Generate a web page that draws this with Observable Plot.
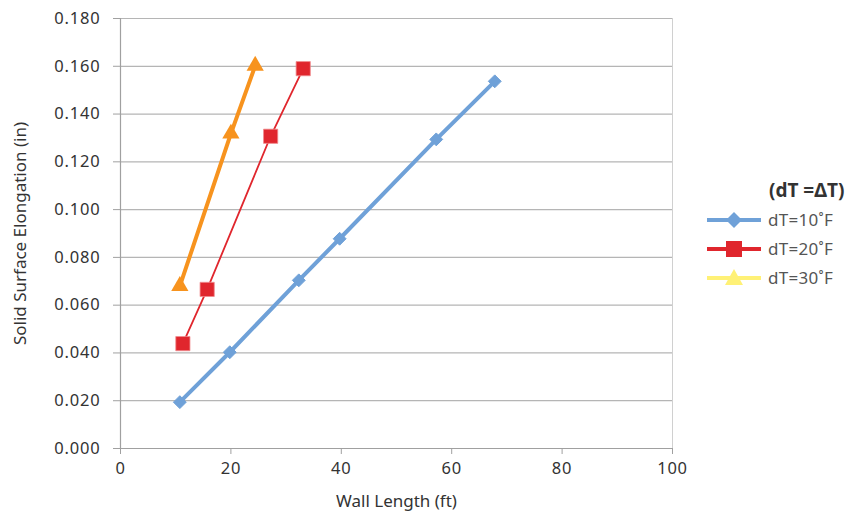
<!DOCTYPE html>
<html>
<head>
<meta charset="utf-8">
<script src="https://cdn.jsdelivr.net/npm/d3@7"></script>
<script src="https://cdn.jsdelivr.net/npm/@observablehq/plot@0.6"></script>
<style>
  html, body { margin: 0; padding: 0; background: #fff; }
  #wrap { position: relative; width: 854px; height: 517px; font-family: "Noto Sans", sans-serif; }
  #wrap svg g[aria-label$="tick label"] text { letter-spacing: 0.8px; }
  #legend { position: absolute; left: 706px; top: 175px; color: #333; font-size: 17px; }
  #legend .title { font-weight: bold; font-size: 19px; margin-left: 63px; height: 30px; line-height: 30px; }
  #legend .row { display: flex; align-items: center; height: 29px; }
  #legend .row span { margin-left: 6px; color: #555; letter-spacing: 0.3px; }
</style>
</head>
<body>
<div id="wrap"></div>
<script>
// Series data
const series10x = [10.75, 19.8, 32.3, 39.7, 57.2, 67.8];
const series10y = [0.0194, 0.0403, 0.0704, 0.0878, 0.1294, 0.1537];
const series20x = [11.3, 15.7, 27.2, 33.1];
const series20y = [0.0439, 0.0666, 0.1307, 0.1590];
const series30x = [10.75, 20.0, 24.4];
const series30y = [0.0680, 0.1318, 0.1602];

const xTicks = [0, 20, 40, 60, 80, 100];
const yTicks = [0, 0.02, 0.04, 0.06, 0.08, 0.10, 0.12, 0.14, 0.16, 0.18];

const seriesNames = ["dT=10˚F", "dT=20˚F", "dT=30˚F"];
const legendTitle = "(dT =\u0394T)";

const toRows = (xs, ys) => xs.map((x, i) => ({x, y: ys[i]}));
const d10 = toRows(series10x, series10y);
const d20 = toRows(series20x, series20y);
const d30 = toRows(series30x, series30y);

const blue = "#6fa1d8", red = "#e0262d", orange = "#f7931e", yellowLegend = "#fff176";

const chart = Plot.plot({
  width: 854,
  height: 517,
  marginLeft: 120,
  marginRight: 182,
  marginTop: 18,
  marginBottom: 69,
  style: {fontFamily: "Noto Sans, sans-serif", fontSize: "16.5px", color: "#333", background: "#fff"},
  x: {domain: [0, 100], ticks: xTicks},
  y: {domain: [0, 0.18], ticks: yTicks},
  marks: [
    Plot.gridY(yTicks, {stroke: "#b5b5b5", strokeOpacity: 1, strokeWidth: 1.2}),
    Plot.ruleX([100], {stroke: "#d0d0d0"}),
    Plot.ruleX([0], {stroke: "#a0a0a0", strokeWidth: 1.2}),
    Plot.ruleY([0], {stroke: "#a0a0a0", strokeWidth: 1.2}),
    Plot.axisY(yTicks, {tickFormat: d3.format(".3f"), tickSize: 7, tickPadding: 13, stroke: "#a0a0a0", fill: "#333", fontSize: 16.5, label: null}),
    Plot.axisX(xTicks, {tickSize: 6, tickPadding: 8, stroke: "#a0a0a0", fill: "#333", fontSize: 16.5, label: null}),
    Plot.text(["Solid Surface Elongation (in)"], {frameAnchor: "left", textAnchor: "middle", dx: -100, rotate: -90, fontSize: 17, fill: "#333"}),
    Plot.text(["Wall Length (ft)"], {frameAnchor: "bottom", dy: 58, fontSize: 17, fill: "#333"}),
    Plot.line(d10, {x: "x", y: "y", stroke: blue, strokeWidth: 4}),
    Plot.dot(d10, {x: "x", y: "y", symbol: "diamond2", r: 5.8, fill: blue, stroke: blue, strokeWidth: 1}),
    Plot.line(d20, {x: "x", y: "y", stroke: red, strokeWidth: 1.8}),
    Plot.dot(d20, {x: "x", y: "y", symbol: "square", r: 8, fill: red, stroke: "#f08a8d", strokeWidth: 0.8}),
    Plot.line(d30, {x: "x", y: "y", stroke: orange, strokeWidth: 4}),
    Plot.dot(d30, {x: "x", y: "y", symbol: "triangle", r: 6.4, fill: orange, stroke: "none"})
  ]
});

const wrap = document.getElementById("wrap");
wrap.appendChild(chart);

// Legend (HTML, to the right of the plot)
const legend = document.createElement("div");
legend.id = "legend";
const title = document.createElement("div");
title.className = "title";
title.textContent = legendTitle;
legend.appendChild(title);
const legendItems = [
  {name: seriesNames[0], color: blue, shape: "diamond"},
  {name: seriesNames[1], color: red, shape: "square"},
  {name: seriesNames[2], color: yellowLegend, shape: "triangle"}
];
for (const it of legendItems) {
  const row = document.createElement("div");
  row.className = "row";
  const ns = "http://www.w3.org/2000/svg";
  const svg = document.createElementNS(ns, "svg");
  svg.setAttribute("width", 56);
  svg.setAttribute("height", 24);
  const ln = document.createElementNS(ns, "line");
  ln.setAttribute("x1", 1); ln.setAttribute("x2", 55);
  ln.setAttribute("y1", 12); ln.setAttribute("y2", 12);
  ln.setAttribute("stroke", it.color); ln.setAttribute("stroke-width", 4);
  svg.appendChild(ln);
  const p = document.createElementNS(ns, "path");
  let d;
  if (it.shape === "diamond") d = "M28,4L36,12L28,20L20,12Z";
  else if (it.shape === "square") d = "M20,4H36V20H20Z";
  else d = "M28,3L37,19H19Z";
  p.setAttribute("d", d);
  p.setAttribute("fill", it.color);
  svg.appendChild(p);
  row.appendChild(svg);
  const s = document.createElement("span");
  s.textContent = it.name;
  row.appendChild(s);
  legend.appendChild(row);
}
wrap.appendChild(legend);
</script>
</body>
</html>
